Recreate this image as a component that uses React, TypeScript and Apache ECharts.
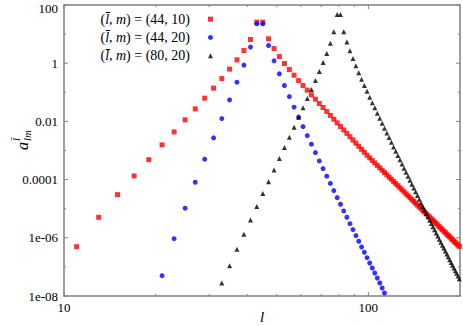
import React, { useEffect, useRef } from "react";
import * as echarts from "echarts";

// ---- data (l values are odd multipoles) ----
const redName = "(44, 10)";
const redL = [11,13,15,17,19,21,23,25,27,29,31,33,35,37,39,41,43,45,47,49,51,53,55,57,59,61,63,65,67,69,71,73,75,77,79,81,83,85,87,89,91,93,95,97,99,101,103,105,107,109,111,113,115,117,119,121,123,125,127,129,131,133,135,137,139,141,143,145,147,149,151,153,155,157,159,161,163,165,167,169,171,173,175,177,179,181,183,185,187,189,191,193,195,197,199];
const redA = [4.95e-7,5.08e-6,3.04e-5,1.34e-4,4.86e-4,1.56e-3,4.36e-3,1.13e-2,2.70e-2,6.29e-2,0.139,0.297,0.625,1.31,2.72,6.51,25.8,25.8,6.88,3.19,1.69,0.973,0.605,0.388,0.253,0.171,0.119,0.0817,0.0581,0.0410,0.0299,0.0218,0.0161,0.0119,8.91e-3,6.70e-3,5.08e-3,3.88e-3,2.98e-3,2.30e-3,1.79e-3,1.40e-3,1.10e-3,8.67e-4,6.89e-4,5.60e-4,4.57e-4,3.74e-4,3.08e-4,2.55e-4,2.11e-4,1.75e-4,1.46e-4,1.22e-4,1.03e-4,8.63e-5,7.29e-5,6.18e-5,5.24e-5,4.46e-5,3.80e-5,3.24e-5,2.79e-5,2.39e-5,2.06e-5,1.78e-5,1.54e-5,1.33e-5,1.16e-5,1.00e-5,8.75e-6,7.64e-6,6.68e-6,5.85e-6,5.13e-6,4.51e-6,3.96e-6,3.50e-6,3.09e-6,2.73e-6,2.42e-6,2.15e-6,1.91e-6,1.69e-6,1.51e-6,1.34e-6,1.20e-6,1.07e-6,9.60e-7,8.57e-7,7.71e-7,6.90e-7,6.22e-7,5.58e-7,5.04e-7];

const blueName = "(44, 20)";
const blueL = [21,23,25,27,29,31,33,35,37,39,41,43,45,47,49,51,53,55,57,59,61,63,65,67,69,71,73,75,77,79,81,83,85,87,89,91,93,95,97,99,101,103,105,107,109,111,113];
const blueA = [4.99e-8,9.33e-7,1.04e-5,8.13e-5,5.02e-4,2.71e-3,1.25e-2,5.50e-2,0.223,0.857,3.57,22.6,22.6,4.05,1.21,0.431,0.171,0.0714,0.0308,0.0140,6.64e-3,3.25e-3,1.65e-3,8.47e-4,4.39e-4,2.39e-4,1.31e-4,7.40e-5,4.18e-5,2.40e-5,1.42e-5,8.38e-6,5.08e-6,3.06e-6,1.91e-6,1.19e-6,7.60e-7,4.84e-7,3.18e-7,2.07e-7,1.36e-7,9.18e-8,6.18e-8,4.16e-8,2.80e-8,1.88e-8,1.27e-8];

const blackName = "(80, 20)";
const blackL = [33,35,37,39,41,43,45,47,49,51,53,55,57,59,61,63,65,67,69,71,73,75,77,79,81,83,85,87,89,91,93,95,97,99,101,103,105,107,109,111,113,115,117,119,121,123,125,127,129,131,133,135,137,139,141,143,145,147,149,151,153,155,157,159,161,163,165,167,169,171,173,175,177,179,181,183,185,187,189,191,193,195,197,199];
const blackA = [2.80e-8,1.10e-7,4.04e-7,1.32e-6,4.10e-6,1.18e-5,3.30e-5,8.51e-5,2.15e-4,5.26e-4,1.26e-3,2.86e-3,6.32e-3,1.40e-2,2.92e-2,6.09e-2,0.124,0.253,0.516,1.05,2.15,4.82,12.0,47.1,47.1,12.0,5.30,2.66,1.45,0.811,0.466,0.283,0.171,0.109,0.0681,0.0434,0.0292,0.0192,0.0129,8.69e-3,5.85e-3,4.03e-3,2.78e-3,1.93e-3,1.33e-3,9.46e-4,6.71e-4,4.79e-4,3.43e-4,2.47e-4,1.78e-4,1.30e-4,9.51e-5,6.98e-5,5.15e-5,3.82e-5,2.83e-5,2.12e-5,1.58e-5,1.19e-5,9.02e-6,6.84e-6,5.24e-6,4.04e-6,3.13e-6,2.42e-6,1.88e-6,1.47e-6,1.15e-6,8.99e-7,7.10e-7,5.60e-7,4.42e-7,3.50e-7,2.79e-7,2.22e-7,1.77e-7,1.43e-7,1.14e-7,9.20e-8,7.40e-8,6.00e-8,4.84e-8,3.94e-8];

// ---- axes / ticks ----
const xMin = 10, xMax = 200;
const yMin = 1e-8, yMax = 100;
const xTickValues = [10, 100];
const xTickLabels = ["10", "100"];
const xMinorTicks = [20, 30, 40, 50, 60, 70, 80, 90, 200];
const yTickValues = [100, 1, 0.01, 0.0001, 1e-6, 1e-8];
const yTickLabels = ["100", "1", "0.01", "0.0001", "1e-06", "1e-08"];
const yMinorTicks = [10, 0.1, 0.001, 1e-5, 1e-7];
const xAxisTitle = "l";

const FONT = "Liberation Serif";
const GRAY = "#808080";

function lookup(v: number, vals: number[], labels: string[]) {
  const i = vals.findIndex((t) => Math.abs(Math.log10(v) - Math.log10(t)) < 1e-6);
  return i >= 0 ? labels[i] : "";
}

export default function App() {
  const ref = useRef<HTMLDivElement>(null);
  useEffect(() => {
    if (!ref.current) return;
    const chart = echarts.init(ref.current, undefined, { renderer: "svg" });
    const option: any = {
      animation: false,
      backgroundColor: "#ffffff",
      grid: {
        left: 64, right: 3, top: 5, bottom: 30,
        outerBoundsMode: "none", containLabel: false,
        show: true, borderColor: GRAY, borderWidth: 1.5, backgroundColor: "transparent",
      },
      xAxis: {
        type: "log", logBase: 10, min: xMin, max: xMax,
        axisLine: { show: false }, axisTick: { show: false }, splitLine: { show: false },
        axisLabel: {
          color: "#000", fontFamily: FONT, fontSize: 13, margin: 5,
          formatter: (v: number) => lookup(v, xTickValues, xTickLabels),
        },
      },
      yAxis: {
        type: "log", logBase: 10, min: yMin, max: yMax,
        axisLine: { show: false }, axisTick: { show: false }, splitLine: { show: false },
        axisLabel: { show: false },
      },
      legend: {
        orient: "vertical", right: 250, top: 10, padding: 0, itemGap: 0,
        align: "right", itemWidth: 5, itemHeight: 5,
        data: [redName, blueName, blackName],
        formatter: (name: string) => "({i|l\u0304}, {i|m}) = " + name + "{g| }",
        textStyle: {
          color: "#000", fontFamily: FONT, fontSize: 14, lineHeight: 18.3,
          rich: {
            i: { fontStyle: "italic", fontFamily: FONT, fontSize: 14, lineHeight: 18.3, color: "#000" },
            g: { width: 13, fontSize: 14, lineHeight: 18.3 },
          },
        },
      },
      series: [
        { name: redName, type: "scatter", symbol: "rect", symbolSize: 5, itemStyle: { color: "#ff0000" },
          data: redL.map((l, i) => [l, redA[i]]) },
        { name: blueName, type: "scatter", symbol: "circle", symbolSize: 5, itemStyle: { color: "#0000ff" },
          data: blueL.map((l, i) => [l, blueA[i]]) },
        { name: blackName, type: "scatter", symbol: "triangle", symbolSize: 5, itemStyle: { color: "#000000" },
          data: blackL.map((l, i) => [l, blackA[i]]) },
      ],
    };
    chart.setOption(option);

    const px = (x: number, y: number) => chart.convertToPixel({ gridIndex: 0 }, [x, y]) as number[];
    const [left, bottom] = px(xMin, yMin);
    const [right, top] = px(xMax, yMax);
    const g: any[] = [];
    const tick = (x1: number, y1: number, x2: number, y2: number) =>
      g.push({ type: "line", silent: true, shape: { x1, y1, x2, y2 }, style: { stroke: GRAY, lineWidth: 1 } });
    const xt = (v: number, len: number) => {
      const X = px(v, yMin)[0];
      tick(X, bottom, X, bottom - len);
      tick(X, top, X, top + len);
    };
    const yt = (v: number, len: number) => {
      const Y = px(xMin, v)[1];
      tick(left, Y, left + len, Y);
      tick(right, Y, right - len, Y);
    };
    xTickValues.forEach((v) => xt(v, 4));
    xMinorTicks.forEach((v) => xt(v, 2));
    yTickValues.forEach((v) => yt(v, 4));
    yMinorTicks.forEach((v) => yt(v, 2));

    // y tick labels placed through the axis scale
    yTickValues.forEach((v, i) => {
      const Y = px(xMin, v)[1];
      g.push({
        type: "text", silent: true, x: left - 6, y: Math.max(Y, 8),
        style: { text: yTickLabels[i], font: `13px "${FONT}"`, fill: "#000", align: "right", verticalAlign: "middle" },
      });
    });

    // x-axis title
    g.push({
      type: "text", silent: true, x: (left + right) / 2, y: bottom + 21,
      style: { text: xAxisTitle, font: `italic 15px "${FONT}"`, fill: "#000", align: "center", verticalAlign: "middle" },
    });

    // y-axis title a^{l-bar}_{lm}, rotated
    g.push({
      type: "group", x: 22, y: 142, rotation: Math.PI / 2,
      children: [
        { type: "text", x: 0, y: 0, style: { text: "a", font: `italic 16px "${FONT}"`, fill: "#000", align: "right", verticalAlign: "middle" } },
        { type: "text", x: 1, y: -6, style: { text: "l\u0304", font: `italic 11px "${FONT}"`, fill: "#000", align: "left", verticalAlign: "middle" } },
        { type: "text", x: 1, y: 5, style: { text: "lm", font: `italic 11px "${FONT}"`, fill: "#000", align: "left", verticalAlign: "middle" } },
      ],
    });
    chart.setOption({ graphic: g });

    return () => chart.dispose();
  }, []);
  return <div ref={ref} style={{ position: "fixed", left: 0, top: 0, width: 463, height: 326 }} />;
}
